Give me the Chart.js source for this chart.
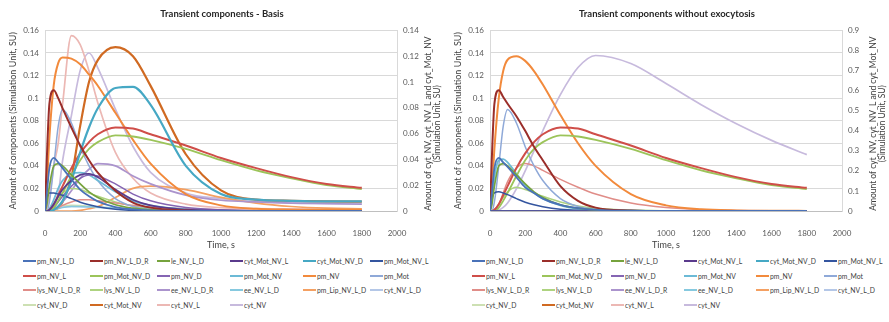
<!DOCTYPE html>
<html>
<head>
<meta charset="utf-8">
<script src="https://cdn.jsdelivr.net/npm/chart.js@4.4.1/dist/chart.umd.min.js"></script>
<style>
  body { margin: 0; background: #fff; font-family: Lato, sans-serif; }
  .panel { position: absolute; top: 0; width: 444px; height: 322px; }
  .panel canvas { display: block; }
  .legend-item { position: absolute; font-size: 6.8px; color: #404040; white-space: nowrap; line-height: 10px; }
  .legend-item i { display: inline-block; width: 13px; height: 2px; vertical-align: middle; margin-right: 1px; position: relative; top: -1px; }
</style>
</head>
<body>
<div class="panel" id="p1" style="left:0"><canvas id="c1" width="444" height="252"></canvas></div>
<div class="panel" id="p2" style="left:445px"><canvas id="c2" width="444" height="252"></canvas></div>
<script>
// time points (s) shared by every series
const T = [0, 10, 25, 50, 75, 100, 150, 200, 250, 300, 400, 500, 600, 800, 1000, 1200, 1400, 1600, 1800];

const names = ['pm_NV_L_D', 'pm_NV_L_D_R', 'le_NV_L_D', 'cyt_Mot_NV_L', 'cyt_Mot_NV_D', 'pm_Mot_NV_L',
  'pm_NV_L', 'pm_Mot_NV_D', 'pm_NV_D', 'pm_Mot_NV', 'pm_NV', 'pm_Mot',
  'lys_NV_L_D_R', 'lys_NV_L_D', 'ee_NV_L_D_R', 'ee_NV_L_D', 'pm_Lip_NV_L_D', 'cyt_NV_L_D',
  'cyt_NV_D', 'cyt_Mot_NV', 'cyt_NV_L', 'cyt_NV'];
const colors = ['#4a72b8', '#9a2e2a', '#76a33d', '#5a3a8c', '#46a8c4', '#34559f',
  '#cf4e49', '#9cc45a', '#8565b3', '#6cbad6', '#f28a3c', '#8fa9d8',
  '#e08d88', '#aed380', '#ab94cd', '#86c9df', '#f4a062', '#b4c7e7',
  '#cde0b3', '#d06a22', '#ecb8b4', '#c7badd'];
const widths = [1.8, 2, 1.7, 1.7, 2.2, 1.5, 2, 1.8, 1.5, 1.8, 2, 1.5, 1.5, 1.5, 1.7, 1.5, 1.7, 1.5, 1.5, 2.2, 1.7, 1.7];
// these three are read against the right-hand axis
const rightSeries = ['cyt_Mot_NV', 'cyt_NV_L', 'cyt_NV'];

// ---- Transient components - Basis ----
const b_pm_NV_L_D = [0, 0.015, 0.038, 0.047, 0.043, 0.038, 0.028, 0.019, 0.013, 0.0085, 0.0035, 0.0014, 0.0005, 0.0001, 0, 0, 0, 0, 0];
const b_pm_NV_L_D_R = [0, 0.045, 0.095, 0.107, 0.100, 0.091, 0.074, 0.058, 0.045, 0.034, 0.018, 0.0075, 0.003, 0.0005, 0, 0, 0, 0, 0];
const b_le_NV_L_D = [0, 0.005, 0.022, 0.040, 0.042, 0.040, 0.032, 0.024, 0.017, 0.012, 0.0055, 0.0025, 0.001, 0.0002, 0, 0, 0, 0, 0];
const b_cyt_Mot_NV_L = [0, 0, 0.001, 0.006, 0.013, 0.019, 0.027, 0.032, 0.033, 0.030, 0.019, 0.010, 0.005, 0.0012, 0.0003, 0, 0, 0, 0];
const b_cyt_Mot_NV_D = [0, 0, 0, 0.001, 0.004, 0.009, 0.027, 0.052, 0.074, 0.091, 0.109, 0.110, 0.094, 0.040, 0.015, 0.010, 0.009, 0.0085, 0.0085];
const b_pm_Mot_NV_L = [0, 0.011, 0.016, 0.016, 0.015, 0.014, 0.011, 0.0078, 0.0055, 0.0038, 0.0015, 0.0005, 0.0002, 0, 0, 0, 0, 0, 0];
const b_pm_NV_L = [0, 0, 0.001, 0.006, 0.014, 0.022, 0.038, 0.051, 0.061, 0.068, 0.074, 0.073, 0.068, 0.058, 0.047, 0.038, 0.030, 0.024, 0.0205];
const b_pm_Mot_NV_D = [0, 0, 0, 0.003, 0.009, 0.016, 0.031, 0.045, 0.055, 0.061, 0.067, 0.066, 0.063, 0.055, 0.045, 0.036, 0.029, 0.023, 0.0195];
const b_pm_NV_D = [0, 0, 0, 0.003, 0.008, 0.013, 0.022, 0.029, 0.032, 0.031, 0.024, 0.015, 0.009, 0.003, 0.001, 0, 0, 0, 0];
const b_pm_Mot_NV = [0, 0, 0.002, 0.010, 0.020, 0.027, 0.033, 0.034, 0.032, 0.027, 0.017, 0.009, 0.005, 0.0015, 0.0005, 0, 0, 0, 0];
const b_pm_NV = [0, 0.020, 0.065, 0.112, 0.131, 0.136, 0.135, 0.130, 0.121, 0.111, 0.087, 0.063, 0.042, 0.015, 0.005, 0.002, 0.0012, 0.001, 0.001];
const b_pm_Mot = [0, 0, 0.008, 0.040, 0.075, 0.090, 0.078, 0.057, 0.040, 0.027, 0.011, 0.004, 0.0015, 0.0003, 0, 0, 0, 0, 0];
const b_lys_NV_L_D_R = [0, 0, 0, 0.001, 0.003, 0.005, 0.008, 0.010, 0.010, 0.009, 0.007, 0.005, 0.0035, 0.002, 0.001, 0.0005, 0.0003, 0.0002, 0.0002];
const b_lys_NV_L_D = [0, 0, 0.001, 0.006, 0.012, 0.016, 0.020, 0.019, 0.016, 0.013, 0.008, 0.0045, 0.0025, 0.0008, 0.0002, 0, 0, 0, 0];
const b_ee_NV_L_D_R = [0, 0, 0, 0.001, 0.004, 0.008, 0.018, 0.029, 0.037, 0.042, 0.040, 0.031, 0.024, 0.014, 0.0095, 0.008, 0.007, 0.0065, 0.006];
const b_ee_NV_L_D = [0, 0, 0, 0.001, 0.002, 0.003, 0.004, 0.004, 0.0038, 0.0034, 0.0026, 0.0019, 0.0014, 0.0008, 0.0004, 0.0002, 0.0001, 0, 0];
const b_pm_Lip_NV_L_D = [0, 0, 0, 0, 0, 0, 0, 0.0005, 0.002, 0.004, 0.012, 0.020, 0.022, 0.019, 0.012, 0.007, 0.004, 0.0025, 0.002];
const b_cyt_NV_L_D = [0, 0, 0.0005, 0.002, 0.003, 0.0035, 0.004, 0.0038, 0.0034, 0.003, 0.0023, 0.0017, 0.0013, 0.0008, 0.0005, 0.0003, 0.0002, 0.0001, 0.0001];
const b_cyt_NV_D = [0, 0, 0.0005, 0.002, 0.0035, 0.0045, 0.005, 0.0048, 0.0042, 0.0036, 0.0026, 0.0018, 0.0012, 0.0006, 0.0003, 0.0001, 0, 0, 0];
const b_cyt_Mot_NV = [0, 0, 0, 0.0009, 0.0026, 0.007, 0.026, 0.066, 0.100, 0.117, 0.127, 0.120, 0.097, 0.044, 0.016, 0.0088, 0.0079, 0.0074, 0.0073];
const b_cyt_NV_L = [0, 0.0018, 0.0105, 0.035, 0.0525, 0.083, 0.136, 0.129, 0.1085, 0.084, 0.0455, 0.0254, 0.014, 0.0053, 0.0026, 0.0018, 0.0016, 0.0014, 0.0013];
const b_cyt_NV = [0, 0, 0, 0.0035, 0.013, 0.039, 0.074, 0.109, 0.1225, 0.111, 0.079, 0.050, 0.030, 0.014, 0.0096, 0.007, 0.0061, 0.0059, 0.0057];

// ---- Transient components without exocytosis ----
const n_pm_NV_L_D = [0, 0.015, 0.038, 0.047, 0.043, 0.039, 0.030, 0.021, 0.016, 0.011, 0.0055, 0.0025, 0.001, 0.0002, 0, 0, 0, 0, 0];
const n_pm_NV_L_D_R = [0, 0.045, 0.095, 0.107, 0.101, 0.095, 0.084, 0.071, 0.057, 0.045, 0.022, 0.009, 0.003, 0.0005, 0, 0, 0, 0, 0];
const n_le_NV_L_D = [0, 0.005, 0.022, 0.040, 0.042, 0.040, 0.032, 0.024, 0.017, 0.012, 0.0055, 0.0025, 0.001, 0.0002, 0, 0, 0, 0, 0];
const n_cyt_Mot_NV_L = [0, 0, 0, 0, 0, 0, 0, 0, 0, 0, 0, 0, 0, 0, 0, 0, 0, 0, 0];
const n_cyt_Mot_NV_D = [0, 0, 0, 0, 0, 0, 0, 0, 0, 0, 0, 0, 0, 0, 0, 0, 0, 0, 0];
const n_pm_Mot_NV_L = [0, 0.011, 0.016, 0.017, 0.016, 0.0145, 0.011, 0.0078, 0.0055, 0.0038, 0.0016, 0.0006, 0.0002, 0, 0, 0, 0, 0, 0];
const n_pm_NV_L = [0, 0, 0.001, 0.006, 0.014, 0.022, 0.038, 0.051, 0.061, 0.068, 0.074, 0.073, 0.068, 0.058, 0.047, 0.038, 0.030, 0.024, 0.0205];
const n_pm_Mot_NV_D = [0, 0, 0, 0.003, 0.009, 0.016, 0.031, 0.045, 0.055, 0.061, 0.067, 0.066, 0.063, 0.055, 0.045, 0.036, 0.029, 0.023, 0.0195];
const n_pm_NV_D = [0, 0, 0, 0, 0, 0, 0, 0, 0, 0, 0, 0, 0, 0, 0, 0, 0, 0, 0];
const n_pm_Mot_NV = [0, 0.008, 0.030, 0.045, 0.046, 0.043, 0.033, 0.023, 0.016, 0.011, 0.005, 0.002, 0.001, 0.0002, 0, 0, 0, 0, 0];
const n_pm_NV = [0, 0.015, 0.055, 0.100, 0.124, 0.134, 0.137, 0.133, 0.124, 0.112, 0.085, 0.060, 0.040, 0.015, 0.005, 0.0015, 0.0005, 0.0002, 0.0001];
const n_pm_Mot = [0, 0, 0.008, 0.040, 0.075, 0.090, 0.078, 0.057, 0.040, 0.027, 0.011, 0.004, 0.0015, 0.0003, 0, 0, 0, 0, 0];
const n_lys_NV_L_D_R = [0, 0, 0.001, 0.006, 0.016, 0.026, 0.038, 0.042, 0.040, 0.036, 0.028, 0.021, 0.015, 0.007, 0.003, 0.0012, 0.0005, 0.0002, 0.0001];
const n_lys_NV_L_D = [0, 0, 0.001, 0.006, 0.012, 0.017, 0.021, 0.019, 0.016, 0.013, 0.008, 0.0045, 0.0025, 0.0008, 0.0002, 0, 0, 0, 0];
const n_ee_NV_L_D_R = [0, 0, 0, 0, 0, 0, 0, 0, 0, 0, 0, 0, 0, 0, 0, 0, 0, 0, 0];
const n_ee_NV_L_D = [0, 0, 0, 0, 0, 0, 0, 0, 0, 0, 0, 0, 0, 0, 0, 0, 0, 0, 0];
const n_pm_Lip_NV_L_D = [0, 0, 0, 0, 0, 0, 0, 0, 0, 0, 0, 0, 0, 0, 0, 0, 0, 0, 0];
const n_cyt_NV_L_D = [0, 0, 0, 0, 0, 0, 0, 0, 0, 0, 0, 0, 0, 0, 0, 0, 0, 0, 0];
const n_cyt_NV_D = [0, 0, 0, 0, 0, 0, 0, 0, 0, 0, 0, 0, 0, 0, 0, 0, 0, 0, 0];
const n_cyt_Mot_NV = [0, 0, 0, 0, 0, 0, 0, 0, 0, 0, 0, 0, 0, 0, 0, 0, 0, 0, 0];
const n_cyt_NV_L = [0, 0, 0, 0, 0, 0, 0, 0, 0, 0, 0, 0, 0, 0, 0, 0, 0, 0, 0];
const n_cyt_NV = [0, 0, 0, 0.005, 0.018, 0.040, 0.110, 0.200, 0.300, 0.400, 0.580, 0.715, 0.775, 0.735, 0.635, 0.530, 0.435, 0.352, 0.281];

const basisValues = [b_pm_NV_L_D, b_pm_NV_L_D_R, b_le_NV_L_D, b_cyt_Mot_NV_L, b_cyt_Mot_NV_D, b_pm_Mot_NV_L,
  b_pm_NV_L, b_pm_Mot_NV_D, b_pm_NV_D, b_pm_Mot_NV, b_pm_NV, b_pm_Mot,
  b_lys_NV_L_D_R, b_lys_NV_L_D, b_ee_NV_L_D_R, b_ee_NV_L_D, b_pm_Lip_NV_L_D, b_cyt_NV_L_D,
  b_cyt_NV_D, b_cyt_Mot_NV, b_cyt_NV_L, b_cyt_NV];
const noExoValues = [n_pm_NV_L_D, n_pm_NV_L_D_R, n_le_NV_L_D, n_cyt_Mot_NV_L, n_cyt_Mot_NV_D, n_pm_Mot_NV_L,
  n_pm_NV_L, n_pm_Mot_NV_D, n_pm_NV_D, n_pm_Mot_NV, n_pm_NV, n_pm_Mot,
  n_lys_NV_L_D_R, n_lys_NV_L_D, n_ee_NV_L_D_R, n_ee_NV_L_D, n_pm_Lip_NV_L_D, n_cyt_NV_L_D,
  n_cyt_NV_D, n_cyt_Mot_NV, n_cyt_NV_L, n_cyt_NV];

const leftTicks = { max: 0.16, step: 0.02 };
const basisRight = { max: 0.14, step: 0.02 };
const noExoRight = { max: 0.9, step: 0.1 };

const FONT = 'Lato';
const GRID = '#d9d9d9';
const TICK = '#595959';

// right axis title reads bottom-to-top like Excel, so it is drawn by hand
const rightTitle = {
  id: 'rightTitle',
  afterDraw(chart, args, opts) {
    const { ctx, chartArea } = chart;
    const cy = (chartArea.top + chartArea.bottom) / 2 + 3;
    ctx.save();
    ctx.font = '8.5px ' + FONT;
    ctx.fillStyle = '#404040';
    ctx.textAlign = 'center';
    ctx.textBaseline = 'middle';
    opts.lines.forEach((line, i) => {
      ctx.save();
      ctx.translate(opts.x + i * 9, cy);
      ctx.rotate(-Math.PI / 2);
      ctx.fillText(line, 0, 0);
      ctx.restore();
    });
    ctx.restore();
  }
};

function makeChart(id, title, values, right) {
  const datasets = names.map((name, i) => ({
    label: name,
    data: T.map((t, k) => ({ x: t, y: values[i][k] })),
    borderColor: colors[i],
    backgroundColor: colors[i],
    borderWidth: widths[i],
    pointRadius: 0,
    cubicInterpolationMode: 'monotone',
    fill: false,
    yAxisID: rightSeries.includes(name) ? 'y2' : 'y'
  }));

  return new Chart(document.getElementById(id), {
    type: 'line',
    data: { datasets },
    plugins: [rightTitle],
    options: {
      responsive: false,
      animation: false,
      layout: { padding: 0 },
      plugins: {
        legend: { display: false },
        tooltip: { enabled: false },
        title: {
          display: true,
          text: title,
          color: '#262626',
          font: { family: FONT, size: 9.5 },
          padding: { top: 8, bottom: 11 }
        },
        rightTitle: { x: 428, lines: ['Amount of cyt_NV, cyt_NV_L and cyt_Mot_NV', '(Simulation Unit, SU)'] }
      },
      scales: {
        x: {
          type: 'linear',
          min: 0,
          max: 2000,
          ticks: { stepSize: 200, color: TICK, font: { family: FONT, size: 8 }, padding: 10, maxRotation: 0, callback: v => v },
          grid: { display: false },
          border: { color: '#bfbfbf' },
          title: { display: true, text: 'Time, s', color: '#404040', font: { family: FONT, size: 9 }, padding: { top: 0, bottom: 2 } },
          afterFit: s => { s.height = 41; }
        },
        y: {
          position: 'left',
          min: 0,
          max: leftTicks.max,
          ticks: { stepSize: leftTicks.step, color: TICK, font: { family: FONT, size: 8 }, padding: 6, callback: v => String(+v.toFixed(2)) },
          grid: { color: GRID, drawTicks: false },
          border: { color: GRID },
          title: { display: true, text: 'Amount of components (Simulation Unit, SU)', color: '#404040', font: { family: FONT, size: 9 }, padding: { top: 8, bottom: 0 } },
          afterFit: s => { s.width = 45; }
        },
        y2: {
          position: 'right',
          min: 0,
          max: right.max,
          ticks: { stepSize: right.step, color: TICK, font: { family: FONT, size: 8 }, padding: 6, callback: v => String(+v.toFixed(2)) },
          grid: { drawOnChartArea: false, drawTicks: false },
          border: { color: GRID },
          afterFit: s => { s.width = 47; }
        }
      }
    }
  });
}

function makeLegend(panelId, cols) {
  const rows = [256, 271, 285, 300];
  const panel = document.getElementById(panelId);
  names.forEach((name, i) => {
    const item = document.createElement('div');
    item.className = 'legend-item';
    item.style.left = cols[i % 6] + 'px';
    item.style.top = rows[Math.floor(i / 6)] + 'px';
    item.innerHTML = '<i style="background:' + colors[i] + '"></i>' + name;
    panel.appendChild(item);
  });
}

makeChart('c1', 'Transient components - Basis', basisValues, basisRight);
makeChart('c2', 'Transient components without exocytosis', noExoValues, noExoRight);
makeLegend('p1', [23, 90, 157, 230, 303, 370]);
makeLegend('p2', [27, 97, 166, 239, 311, 379]);
</script>
</body>
</html>
